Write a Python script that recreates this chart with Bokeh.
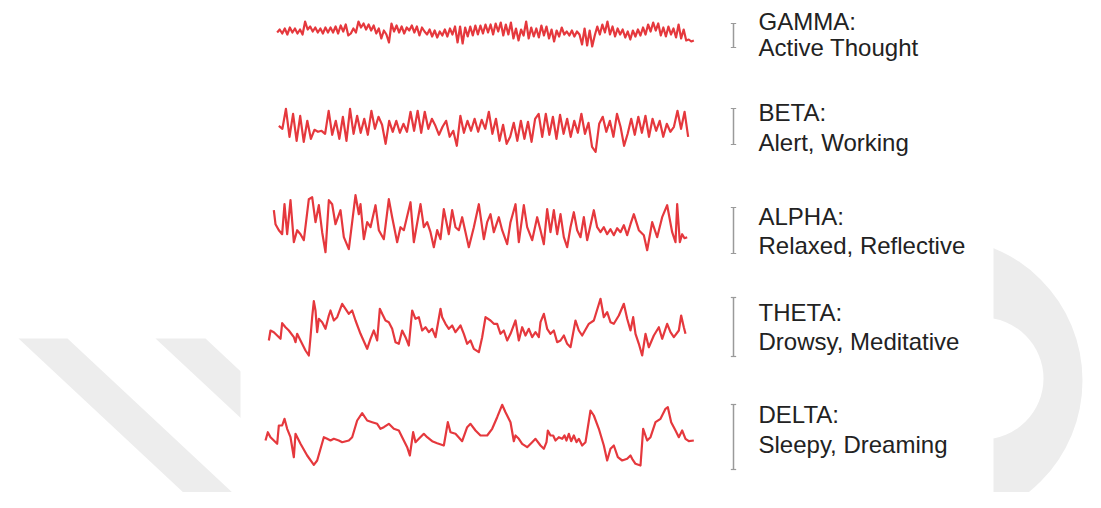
import numpy as np
from bokeh.plotting import figure
from bokeh.models import Range1d
from bokeh.core.properties import value
from bokeh.embed import file_html
from bokeh.resources import INLINE

# ---------------- data ----------------
bands = ["GAMMA:", "BETA:", "ALPHA:", "THETA:", "DELTA:"]
states = ["Active Thought", "Alert, Working", "Relaxed, Reflective",
          "Drowsy, Meditative", "Sleepy, Dreaming"]

# time axis in ms; gamma/beta are evenly sampled between start and end
gamma_start, gamma_end = 50, 1300
gamma_v = [0, 3, -1, 4, -2, 5, 0, 4, -1, 3,
           -2, 11,
           3, 6, 1, 5, 0, 4, -1, 5, 0, 5, 0, 6, -1, 7, 1, 8, -3,
           -1, 4, 0, 11, 5, 9, 3, 8, 2, 7, -1, 4, -6, 2, -2, -10,
           9, 1, 7, 0, 6, -1, 5, 2, 7, 0, 6, -3, 5, 1,
           -2, 3, -4, 2, -5, 1, -3, 3, -4, 4, -2, 6,
           -10, 6, -11, 5,
           -4, 6, -3, 7, -2, 7, -1, 8, 0, 8, -2, 9, 1, 10, -3, 8, -2, 10,
           -6, 4, -8, 3, -3, 11, -6, 5, -4, 4,
           -5, 7, -3, 6, -6, 3, -9, 2, -4, 5, -2, 1, -3, 2, -4, 1, -2,
           -12, 4, -13, 2, -14, -3, 6, -2, 8, 0, 11,
           -2, 6, -4, 4, -2, 3, -5, 1, -7, 2, -4, 3, -3,
           5, -2, 8, 1, 10, 2, 9, -3,
           5, -4, 6, -2, 4, -5, 8, -6, 3, -8, -7, -9, -8]

beta_start, beta_end = 55, 1283
beta_v = [3, 0, 20, -8,
          15, -12, 13, -13, 8, -10,
          -1, -3, -2, -5,
          18, -6, 8, -10, 12, -12, 20,
          -5, 13, -4, 10, -6, 18,
          0, 12, 4, -15, 8,
          -3, 8, -4, 5,
          -3, 17, -2, 18, -4, 17, 0, 10,
          3, -6, 2, 8, -8, -2, -17,
          13, -4, 8, -2, 10, -3, 9, 0, 17, -5,
          10, -12, 4, -15, -8,
          6, -12, 8, -10, 7, -13, 10, 15,
          -8, 15, -6, 12, -10, 14, -5, 10, -8, 8, -4, 15,
          -5, 6, -18, -23,
          5, 12, -3, 8, -8, 15, 2,
          -17, -5, 10, -6, 12, -4, 13, -8, 10, -2, 8,
          -8, 5, -3, 2, 18, 0, 17, -8]

alpha_t = [40, 45, 55, 65, 72, 80, 90, 100, 110, 120, 130, 145, 155, 165, 175,
           185, 195, 205, 215, 225, 240, 250, 265, 285, 295, 300, 310, 320, 330,
           345, 355, 370, 385, 395, 410, 420, 430, 450, 460, 480, 490, 500, 510,
           520, 530, 540, 550, 565, 575, 585, 595, 605, 625, 640, 655, 670, 680,
           690, 700, 715, 725, 740, 750, 765, 775, 790, 800, 815, 830, 840, 850,
           860, 870, 880, 890, 900, 910, 920, 930, 940, 950, 960, 970, 980, 1000,
           1010, 1020, 1030, 1040, 1050, 1060, 1070, 1080, 1090, 1100, 1110, 1120,
           1135, 1150, 1160, 1175, 1190, 1205, 1220, 1235, 1245, 1250, 1258, 1265,
           1272, 1280]
alpha_v = [12, -2, -8, -12, 18, -12, 22, -20, -8, -12, -18, 23, 25, 0, 17,
           -10, -30, 22, 18, -2, 12, -15, -27, 27, 8, 18, -17, 0, -5,
           17, -8, -17, 23, 5, -20, -5, -8, 20, -20, 18, -5, 0, -10,
           -25, -8, -17, 13, -12, 12, -5, -8, 5, -25, -5, 18, -17, 0,
           8, -10, 5, -8, -22, 0, 18, -20, 17, -5, -18, 5, -8, -22,
           13, -10, 12, -12, 8, -15, -25, -5, 10, -8, -15, 5, -18, 12,
           -5, -10, -5, -12, -7, -13, -6, -10, -3, -13, -2, 8,
           -8, -13, -28, 0, -15, 5, 17, -10, -20, 18, -20, -12,
           -16, -15]

theta_t = [25, 30, 40, 60, 65, 75, 85, 100, 105, 110, 120, 135, 145, 150, 155,
           160, 165, 170, 175, 185, 195, 205, 210, 220, 230, 245, 255, 265, 275,
           285, 300, 320, 330, 340, 350, 358, 365, 375, 385, 395, 405, 415, 425,
           435, 445, 455, 465, 475, 485, 495, 505, 515, 525, 540, 545, 555, 565,
           575, 585, 600, 610, 620, 630, 640, 655, 665, 675, 690, 700, 710, 720,
           730, 740, 750, 765, 775, 785, 795, 805, 815, 825, 835, 840, 850, 860,
           870, 880, 890, 900, 910, 920, 930, 945, 955, 965, 985, 1000, 1020,
           1030, 1040, 1050, 1060, 1075, 1090, 1100, 1110, 1118, 1125, 1135,
           1145, 1155, 1165, 1180, 1195, 1205, 1220, 1230, 1240, 1255, 1262,
           1270, 1275]
theta_v = [-10, 0, -1.7, -8.3, 7.3, 3.3, 0, -6.7, -11.7, -3.3, -10, -20, -25,
           -6.7, 13.3, 29.3, 20, -1.7, 11.7, 8.3, 1.7, 15, 20, 10, 13.3, 26.7,
           21.7, 16.7, 20, 10, -3.3, -18.3, -8.3, 0, -10, 21.7, 16.7, 10, 8.3,
           1.7, -11.7, -13.3, 0, -6.7, -15, 20, 11.7, 13.3, 0, 3.3, -1.7, 1.7,
           -6.7, 21.7, 13.3, 6.7, 1.7, 5, -1.7, 5, -3.3, -13.3, -10, -18.3,
           -21.7, -6.7, 13.3, 10, 6.7, 6.7, -3.3, 0, -10, -3.3, 10, -10, 3.3,
           -5, 1.7, -6.7, -1.7, -6.7, 8.3, 16.7, 1.7, -3.3, 0, -11.7, -10, -5,
           -13.3, -16.7, 10, 0, -5, 6.7, 10, 31.7, 13.3, 18.3, 8.3, 6.7, 15,
           26.7, 11.7, 0, 13.3, -3.3, -13.3, -25, -3.3, -16.7, -5, 3.3, -8.3,
           6.7, -1.7, -6.7, 0, 15, 3.3, -3.3]

delta_t = [15, 22, 30, 50, 55, 65, 72, 80, 90, 100, 105, 120, 140, 160, 170,
           190, 200, 210, 220, 235, 245, 265, 275, 290, 305, 320, 335, 350, 360,
           370, 385, 400, 415, 425, 440, 448, 458, 465, 475, 490, 500, 515, 530,
           550, 562, 570, 585, 605, 620, 630, 645, 660, 680, 695, 710, 725, 735,
           750, 760, 765, 775, 785, 800, 815, 825, 840, 850, 858, 862, 870, 878,
           885, 895, 905, 912, 918, 925, 932, 940, 948, 955, 965, 975, 990, 1000,
           1015, 1030, 1040, 1050, 1060, 1072, 1085, 1100, 1110, 1115, 1125,
           1140, 1148, 1160, 1170, 1185, 1200, 1215, 1222, 1232, 1245, 1255,
           1265, 1275, 1285, 1300]
delta_v = [-5, 3.3, -1.7, -8.3, 10, 10, 16.7, 6.7, -1.7, -21.7, 1.7, -8.3, -20,
           -29.3, -25, -1.7, -3.3, -5, -3.3, -5, -6.7, -5, -1.7, 15, 22.3, 15,
           13.3, 11.7, 6.7, 8.3, 11.7, 6.7, 5, -1.7, -11.7, -20, 3.3, -6.7,
           -3.3, 1.7, -1.7, -5.7, -7.7, -10, 13.3, 3.3, 1.7, -5.7, 8.3, 11.7, 5,
           0, 0, 6.7, 18.3, 30.7, 23.3, 13.3, -5.7, 0, -3.3, -8.3, -11.7, -6.7,
           -3.3, -10, -13.3, -6.7, 5, 0, 0, -5, -1.7, -3.3, 0, -5, 1.7, -5.7, 0,
           -6.7, -3.3, -10, -6.7, 25, 20, 6.7, -10, -25, -13.3, -10, -21.7, -25,
           -23.3, -20, -23.3, -28.3, -30, 6.7, -5, -1.7, 13.3, 16.7, 26.7, 28.3,
           13.3, 5, -1.7, 5, -3.3, -5.7, -5]

# amplitude scale bar heights (same units as the traces)
scale_span = [24, 36, 46, 59, 65]

# ---------------- layout ----------------
RED = "#e5383d"
GRAY_BG = "#ededed"
row_center = [32, 128.3, 221.7, 330, 435]
bar_center = [35, 126, 230, 326.5, 436.5]
label_y1 = [20.5, 112, 216, 312, 414]
label_y2 = [47, 142, 245, 341, 444]
bar_x = 1419
label_x = 1494

p = figure(width=1085, height=492, x_range=Range1d(-780, 2475),
           y_range=Range1d(492, 0), output_backend="svg",
           toolbar_location=None, min_border=0)
p.axis.visible = False
p.grid.visible = False
p.outline_line_color = None
p.background_fill_color = "white"
p.border_fill_color = "white"

# faint watermark behind the chart
p.patches(xs=[[-726, -579, -33, -180], [-315, -165, 381, 231]],
          ys=[[338, 338, 508, 508], [338, 338, 508, 508]],
          fill_color=GRAY_BG, line_color=None)
p.ellipse(x=2037, y=380, width=858, height=286, fill_color=GRAY_BG, line_color=None)
p.ellipse(x=2166, y=378, width=366, height=122, fill_color="white", line_color=None)
p.quad(left=-60, right=2199, bottom=520, top=-10, fill_color="white", line_color=None)

# traces
traces = [
    (np.linspace(gamma_start, gamma_end, len(gamma_v)), gamma_v),
    (np.linspace(beta_start, beta_end, len(beta_v)), beta_v),
    (alpha_t, alpha_v),
    (theta_t, theta_v),
    (delta_t, delta_v),
]
for (t, v), c in zip(traces, row_center):
    y = [c - a for a in v]
    p.line(list(t), y, line_color=RED, line_width=2.2, line_join="round")

# scale bars
tops = [c - s / 2 for c, s in zip(bar_center, scale_span)]
bots = [c + s / 2 for c, s in zip(bar_center, scale_span)]
n = len(scale_span)
p.segment(x0=[bar_x] * n, x1=[bar_x] * n, y0=tops, y1=bots,
          line_color="#9a9a9a", line_width=1.5)
p.segment(x0=[bar_x - 8] * n, x1=[bar_x + 8] * n, y0=tops, y1=tops,
          line_color="#9a9a9a", line_width=1.2)
p.segment(x0=[bar_x - 8] * n, x1=[bar_x + 8] * n, y0=bots, y1=bots,
          line_color="#9a9a9a", line_width=1.2)

# labels
p.text(x=[label_x] * n, y=label_y1, text=bands, text_font=value("Liberation Sans"),
       text_font_size="24px", text_color="#222222", text_baseline="alphabetic")
p.text(x=[label_x] * n, y=label_y2, text=states, text_font=value("Liberation Sans"),
       text_font_size="24px", text_color="#222222", text_baseline="alphabetic")

open("out.html", "w").write(file_html(p, INLINE))
